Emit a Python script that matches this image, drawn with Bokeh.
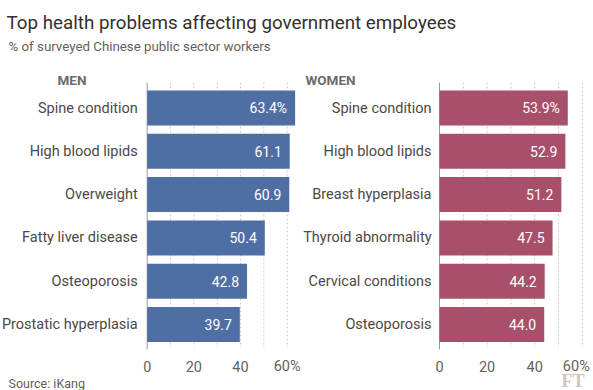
from bokeh.plotting import figure
from bokeh.models import Range1d, Label
from bokeh.core.properties import value
from bokeh.embed import file_html
from bokeh.resources import INLINE

# ---- data ----
men_categories = ["Spine condition", "High blood lipids", "Overweight",
                  "Fatty liver disease", "Osteoporosis", "Prostatic hyperplasia"]
men_values = [63.4, 61.1, 60.9, 50.4, 42.8, 39.7]
women_categories = ["Spine condition", "High blood lipids", "Breast hyperplasia",
                    "Thyroid abnormality", "Cervical conditions", "Osteoporosis"]
women_values = [53.9, 52.9, 51.2, 47.5, 44.2, 44.0]
tick_values = [0, 20, 40, 60]
tick_labels = ["0", "20", "40", "60%"]
grid_values = [10, 20, 30, 40, 50, 60]

title_text = "Top health problems affecting government employees"
subtitle_text = "% of surveyed Chinese public sector workers"
source_text = "Source: iKang"

# ---- layout / style ----
W, H = 593, 390
FONT = "Roboto"
MEN_COLOR = "#4f6ea3"
WOMEN_COLOR = "#a8506a"
LABEL_COLOR = "#4d4845"
GREY = "#66605c"

men_zero, men_scale = 146.7, 2.333       # px position of 0, px per point
women_zero, women_scale = 439.0, 2.38
row0 = 107.5           # centre of first row, px
pitch = 43.3           # px between rows
bar_h = 35 / 43.3
grid_top, grid_bottom = 82, 347
tick_baseline = 366

p = figure(width=W, height=H, output_backend="svg", toolbar_location=None,
           x_range=Range1d(0, W), y_range=Range1d(H, 0), min_border=0,
           background_fill_color="white", border_fill_color="white")
p.axis.visible = False
p.grid.visible = False
p.outline_line_color = None

p.extra_x_ranges = {
    "men": Range1d(-men_zero / men_scale, (W - men_zero) / men_scale),
    "women": Range1d(-women_zero / women_scale, (W - women_zero) / women_scale),
}
p.extra_y_ranges = {"rows": Range1d((H - row0) / pitch, -row0 / pitch)}

rows = list(range(len(men_values)))

def panel(rng, cats, vals, color, label_off, tick_offs):
    # grid lines
    p.segment(x0=grid_values, x1=grid_values, y0=[grid_top] * len(grid_values),
              y1=[grid_bottom] * len(grid_values), x_range_name=rng,
              line_color="#cccccc", line_width=1, line_dash="2 2")
    p.segment(x0=[0], x1=[0], y0=[grid_top], y1=[grid_bottom + 2], x_range_name=rng,
              line_color="#9a9a9a", line_width=1)
    # bars
    p.hbar(y=rows, left=0, right=vals, height=bar_h, x_range_name=rng,
           y_range_name="rows", fill_color=color, line_color=None)
    # value labels
    txt = [f"{v:.1f}" + ("%" if i == 0 else "") for i, v in enumerate(vals)]
    p.text(x=vals, y=rows, text=txt, x_range_name=rng, y_range_name="rows",
           x_offset=-8, text_align="right", text_baseline="middle",
           text_color="white", text_font=value(FONT), text_font_size="14px")
    # category labels
    p.text(x=[0] * len(cats), y=rows, text=cats, x_range_name=rng, y_range_name="rows",
           x_offset=label_off, text_align="right", text_baseline="middle",
           text_color=LABEL_COLOR, text_font=value(FONT), text_font_size="14.5px")
    # tick labels
    p.text(x=tick_values, y=[tick_baseline] * len(tick_values), text=tick_labels,
           x_range_name=rng, x_offset=tick_offs, text_align="center",
           text_baseline="alphabetic", text_color=GREY, text_font=value(FONT),
           text_font_size="14.5px")

panel("men", men_categories, men_values, MEN_COLOR, -9.5, [0, 0, 0, 0])
panel("women", women_categories, women_values, WOMEN_COLOR, -8, [0, 0, 0, -6])

p.add_layout(Label(x=6, y=22, text=title_text, text_font=FONT, text_font_size="18.8px",
                   text_color="#33302e", text_baseline="alphabetic"))
p.add_layout(Label(x=8, y=46, text=subtitle_text, text_font=FONT, text_font_size="13.3px",
                   text_color=GREY, text_baseline="alphabetic"))
p.add_layout(Label(x=57, y=79, text="MEN", text_font=FONT, text_font_size="13.5px",
                   text_font_style="bold", text_color="#6b6b6b", text_baseline="alphabetic"))
p.add_layout(Label(x=305, y=79, text="WOMEN", text_font=FONT, text_font_size="13.5px",
                   text_font_style="bold", text_color="#6b6b6b", text_baseline="alphabetic"))
p.add_layout(Label(x=8, y=383, text=source_text, text_font=FONT, text_font_size="12.5px",
                   text_color=GREY, text_baseline="alphabetic"))
p.add_layout(Label(x=584, y=380, text="FT", text_font="Liberation Serif", text_font_size="18px",
                   text_font_style="bold", text_color="#cfc5ba", text_align="right",
                   text_baseline="alphabetic"))

open("out.html", "w").write(file_html(p, INLINE))
